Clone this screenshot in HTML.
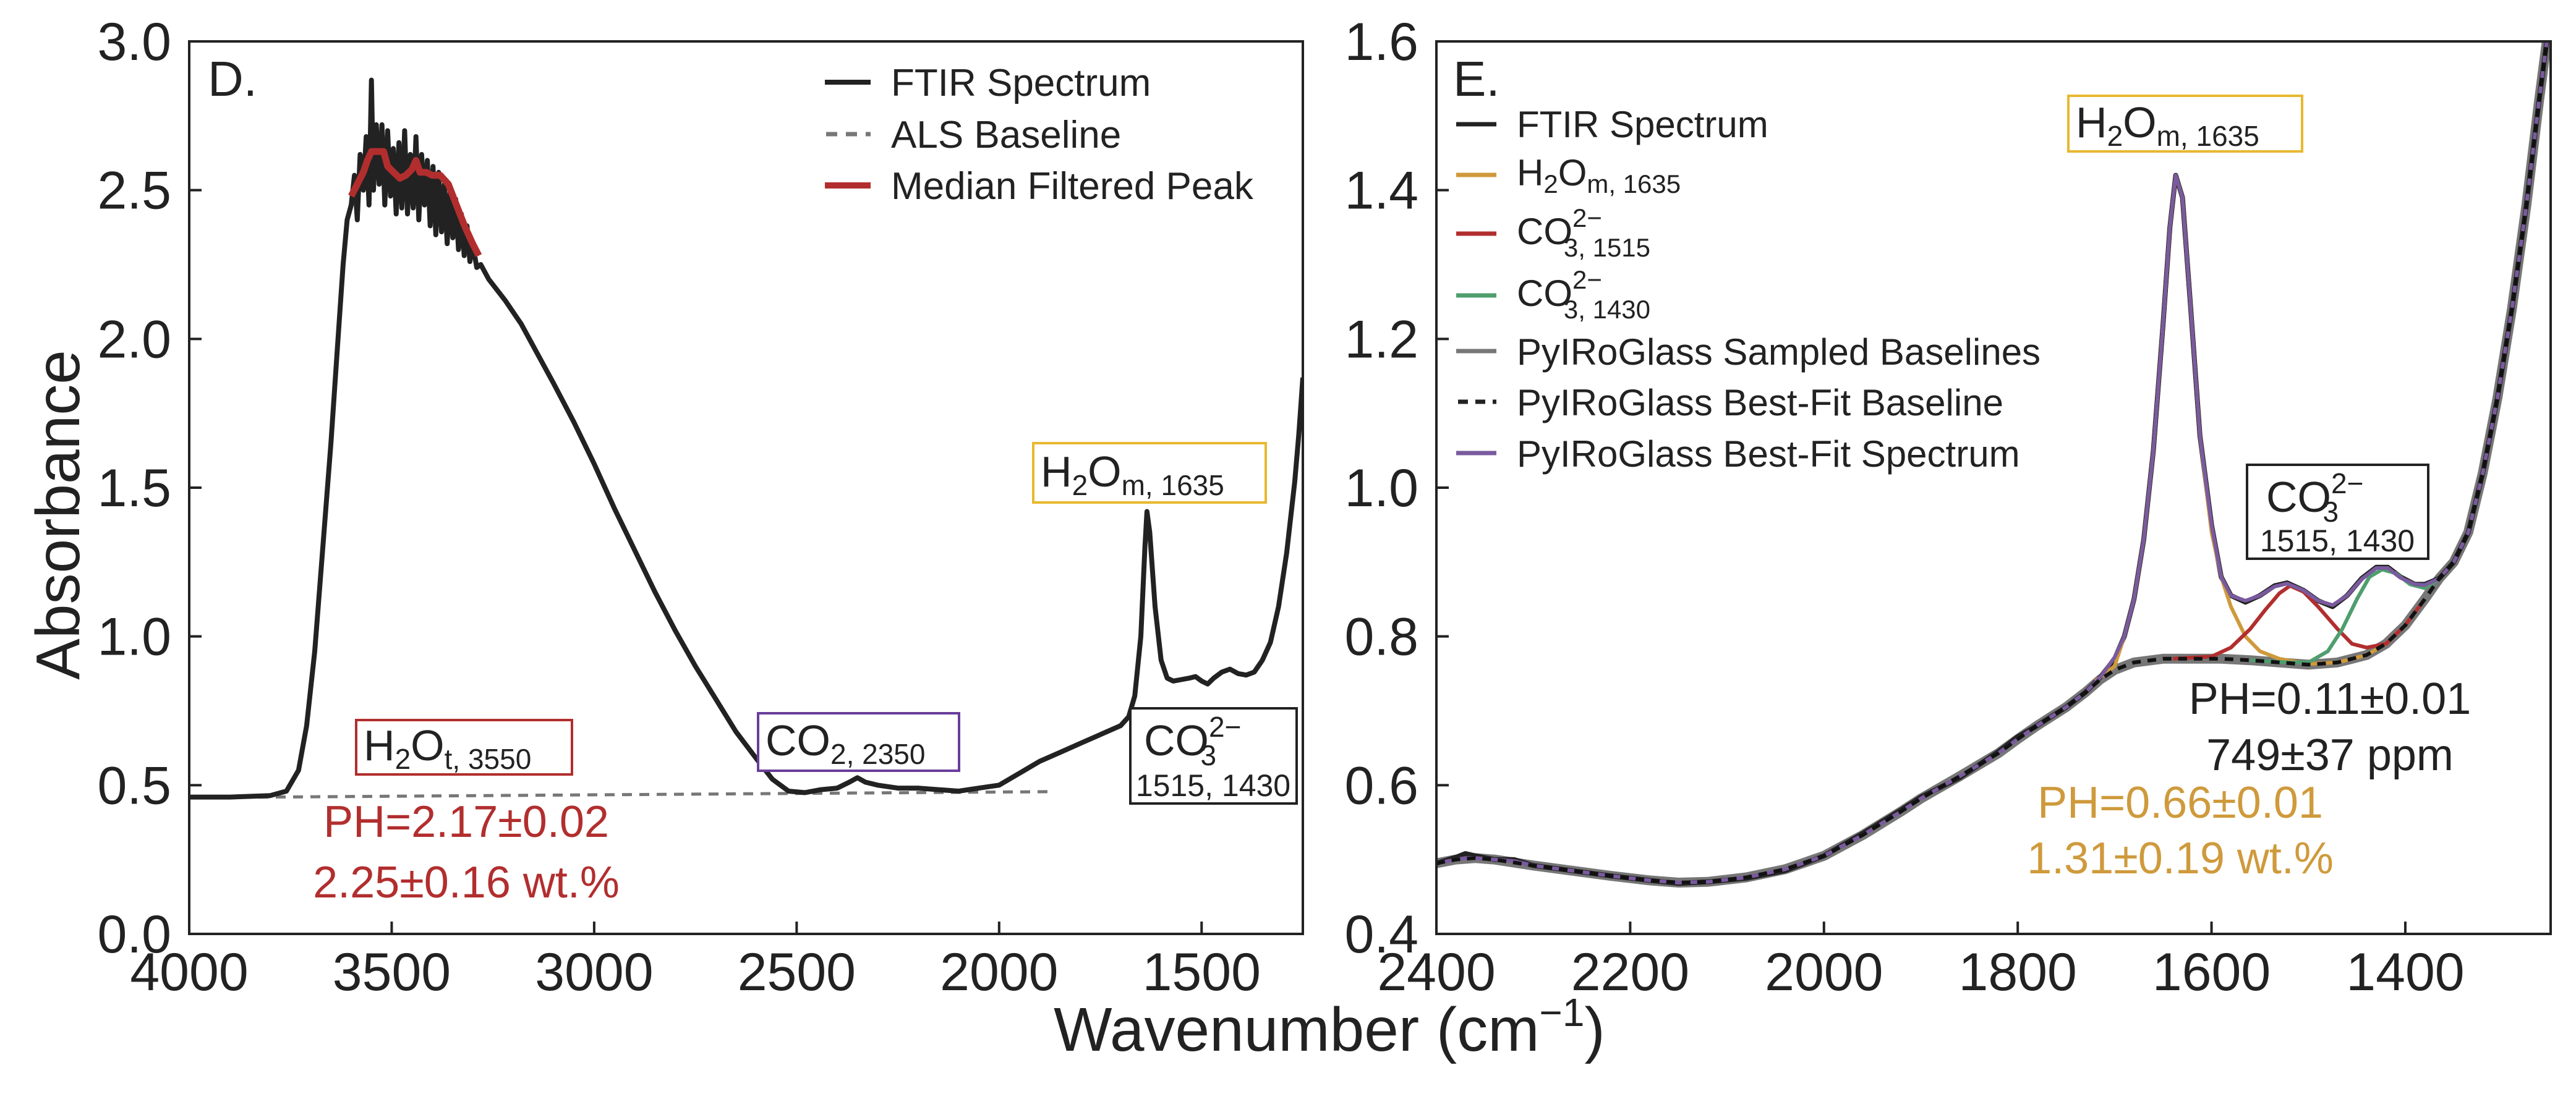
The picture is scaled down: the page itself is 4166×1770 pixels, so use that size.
<!DOCTYPE html>
<html><head><meta charset="utf-8"><style>
html,body{margin:0;padding:0;background:#fff;}
svg{display:block;font-family:"Liberation Sans",sans-serif;}
</style></head><body>
<svg id="fig" width="4166" height="1770" viewBox="0 0 4166 1770" xmlns="http://www.w3.org/2000/svg">
<defs>
<clipPath id="clipL"><rect x="306" y="67" width="1801" height="1444"/></clipPath>
<clipPath id="clipR"><rect x="2323" y="67" width="1802" height="1444"/></clipPath>
</defs>
<g id="plotL" clip-path="url(#clipL)"></g>
<g id="plotR" clip-path="url(#clipR)"></g>
<g id="axes"></g>

<text x="336" y="155" font-size="80" fill="#222">D.</text>
<text x="2350" y="155" font-size="80" fill="#222">E.</text>

<g font-size="62" fill="#222">
 <line x1="1334" y1="133" x2="1408" y2="133" stroke="#222" stroke-width="8"/>
 <text x="1441" y="155">FTIR Spectrum</text>
 <line x1="1336" y1="217" x2="1408" y2="217" stroke="#777" stroke-width="7" stroke-dasharray="18,14"/>
 <text x="1441" y="239">ALS Baseline</text>
 <line x1="1334" y1="300" x2="1408" y2="300" stroke="#b22e2e" stroke-width="10"/>
 <text x="1441" y="322">Median Filtered Peak</text>
</g>

<g font-size="60" fill="#222">
 <line x1="2355" y1="201" x2="2420" y2="201" stroke="#222" stroke-width="7"/>
 <text x="2453" y="222">FTIR Spectrum</text>
 <line x1="2355" y1="283" x2="2420" y2="283" stroke="#cf9a3c" stroke-width="7"/>
 <text x="2453" y="300">H<tspan font-size="42" dy="12">2</tspan><tspan dy="-12">O</tspan><tspan font-size="42" dy="12">m, 1635</tspan></text>
 <line x1="2355" y1="378" x2="2420" y2="378" stroke="#b22e2e" stroke-width="7"/>
 <text x="2453" y="395">CO<tspan font-size="42" dy="-28">2−</tspan><tspan font-size="42" dx="-62" dy="48">3, 1515</tspan></text>
 <line x1="2355" y1="478" x2="2420" y2="478" stroke="#4e9e6e" stroke-width="7"/>
 <text x="2453" y="495">CO<tspan font-size="42" dy="-28">2−</tspan><tspan font-size="42" dx="-62" dy="48">3, 1430</tspan></text>
 <line x1="2355" y1="568" x2="2420" y2="568" stroke="#777" stroke-width="7"/>
 <text x="2453" y="590">PyIRoGlass Sampled Baselines</text>
 <line x1="2358" y1="650" x2="2420" y2="650" stroke="#222" stroke-width="7" stroke-dasharray="16,12"/>
 <text x="2453" y="672">PyIRoGlass Best-Fit Baseline</text>
 <line x1="2355" y1="733" x2="2420" y2="733" stroke="#7a5a9e" stroke-width="7"/>
 <text x="2453" y="755">PyIRoGlass Best-Fit Spectrum</text>
</g>

<g fill="#222">
 <rect x="1671" y="717" width="376" height="96" fill="#fff" stroke="#e8b830" stroke-width="4"/>
 <text x="1683" y="787" font-size="70">H<tspan font-size="46" dy="14">2</tspan><tspan dy="-14">O</tspan><tspan font-size="46" dy="14">m, 1635</tspan></text>
 <rect x="1828" y="1146" width="269" height="154" fill="#fff" stroke="#222" stroke-width="4"/>
 <text x="1850" y="1222" font-size="70">CO<tspan font-size="46" dy="-30">2−</tspan><tspan font-size="46" dx="-66" dy="46">3</tspan></text>
 <text x="1962" y="1288" font-size="50" text-anchor="middle">1515, 1430</text>
 <rect x="576" y="1165" width="349" height="88" fill="#fff" stroke="#b22e2e" stroke-width="4"/>
 <text x="588" y="1230" font-size="70">H<tspan font-size="46" dy="14">2</tspan><tspan dy="-14">O</tspan><tspan font-size="46" dy="14">t, 3550</tspan></text>
 <rect x="1226" y="1154" width="325" height="93" fill="#fff" stroke="#6a3d9a" stroke-width="4"/>
 <text x="1238" y="1222" font-size="70">CO<tspan font-size="46" dy="14">2, 2350</tspan></text>
 <text x="754" y="1354" font-size="72" fill="#b22e2e" text-anchor="middle">PH=2.17±0.02</text>
 <text x="754" y="1452" font-size="72" fill="#b22e2e" text-anchor="middle">2.25±0.16 wt.%</text>
</g>

<g fill="#222">
 <rect x="3345" y="155" width="378" height="90" fill="#fff" stroke="#e8b830" stroke-width="4"/>
 <text x="3357" y="222" font-size="70">H<tspan font-size="46" dy="14">2</tspan><tspan dy="-14">O</tspan><tspan font-size="46" dy="14">m, 1635</tspan></text>
 <rect x="3634" y="752" width="293" height="152" fill="#fff" stroke="#222" stroke-width="4"/>
 <text x="3665" y="828" font-size="70">CO<tspan font-size="46" dy="-30">2−</tspan><tspan font-size="46" dx="-66" dy="46">3</tspan></text>
 <text x="3780" y="892" font-size="50" text-anchor="middle">1515, 1430</text>
 <text x="3768" y="1155" font-size="72" text-anchor="middle">PH=0.11±0.01</text>
 <text x="3768" y="1246" font-size="72" text-anchor="middle">749±37 ppm</text>
 <text x="3526" y="1323" font-size="72" fill="#cf9a3c" text-anchor="middle">PH=0.66±0.01</text>
 <text x="3526" y="1413" font-size="72" fill="#cf9a3c" text-anchor="middle">1.31±0.19 wt.%</text>
</g>

<text transform="translate(128,833) rotate(-90)" font-size="100" fill="#222" text-anchor="middle">Absorbance</text>
<text x="2150" y="1700" font-size="100" fill="#222" text-anchor="middle">Wavenumber (cm<tspan font-size="64" dy="-40">−1</tspan><tspan dy="40">)</tspan></text>

<script>
const dWn = [4000,3900,3800,3760,3730,3710,3690,3670,3650,3635,3620,3610,
3600,3592,3585,3578,3570,3563,3556,3550,3545,3538,3531,3524,3517,3510,3503,3496,3489,3482,3475,3468,3461,3454,3447,3440,3433,3426,3419,3412,3405,3398,3391,3384,3377,3370,3363,3356,3349,3342,3335,3328,3321,3314,3307,3300,3290,3280,
3260,3220,3180,3140,3100,3050,3000,2950,2900,2850,2800,2750,2700,2650,2600,2560,2520,2480,2440,2400,2370,2350,2330,2300,2250,2200,2150,2100,2050,2000,1950,1900,1850,1800,1750,1700,1680,1665,1650,1640,1635,1628,1615,1600,1585,1570,1550,1530,1515,1500,1485,1470,1450,1430,1410,1390,1370,1350,1330,1310,1290,1270,1260,1250];
const dAbs = [0.46,0.46,0.465,0.48,0.55,0.7,0.95,1.3,1.65,1.95,2.25,2.4,
2.45,2.55,2.4,2.62,2.5,2.68,2.45,2.87,2.5,2.72,2.52,2.72,2.45,2.7,2.48,2.64,2.42,2.66,2.44,2.7,2.42,2.62,2.44,2.68,2.4,2.62,2.45,2.6,2.38,2.58,2.35,2.56,2.36,2.52,2.32,2.5,2.34,2.47,2.3,2.42,2.28,2.38,2.26,2.32,2.24,2.25,
2.2,2.13,2.05,1.95,1.85,1.72,1.58,1.43,1.29,1.15,1.02,0.9,0.79,0.68,0.59,0.52,0.48,0.475,0.485,0.49,0.51,0.525,0.51,0.5,0.49,0.49,0.485,0.48,0.49,0.5,0.54,0.58,0.61,0.64,0.67,0.7,0.73,0.8,1.0,1.3,1.42,1.35,1.1,0.92,0.86,0.85,0.855,0.86,0.865,0.85,0.84,0.86,0.88,0.89,0.875,0.87,0.88,0.92,0.98,1.1,1.28,1.52,1.68,1.87];
const alsWn = [4000,1880];
const alsAbs = [0.458,0.478];
const medWn = [3600,3585,3570,3560,3550,3535,3520,3510,3495,3480,3465,3450,3440,3430,3415,3400,3380,3360,3340,3320,3300,3285];
const medAbs = [2.48,2.52,2.56,2.6,2.63,2.63,2.63,2.58,2.56,2.54,2.55,2.57,2.6,2.56,2.56,2.55,2.55,2.52,2.45,2.38,2.32,2.28];
const dYTicks = [0,0.5,1.0,1.5,2.0,2.5,3.0];
const dYLabels = ["0.0","0.5","1.0","1.5","2.0","2.5","3.0"];
const dXTicks = [4000,3500,3000,2500,2000,1500];
const dXLabels = ["4000","3500","3000","2500","2000","1500"];

const eWn = [2400,2380,2370,2360,2340,2320,2300,2260,2220,2180,2150,2120,2080,2040,2000,1960,1920,1900,1860,1820,1800,1780,1750,1730,1715,1700,1690,1680,1670,1660,1650,1643,1637,1630,1622,1612,1600,1590,1580,1565,1550,1535,1522,1505,1490,1475,1460,1445,1430,1418,1405,1390,1380,1365,1350,1335,1320,1305,1290,1275,1262,1250,1240];
const eAbs = [0.495,0.503,0.508,0.505,0.5,0.5,0.492,0.485,0.478,0.472,0.468,0.47,0.475,0.485,0.505,0.535,0.567,0.584,0.61,0.645,0.665,0.68,0.705,0.725,0.745,0.77,0.8,0.85,0.93,1.05,1.22,1.35,1.42,1.39,1.25,1.07,0.95,0.88,0.855,0.846,0.855,0.868,0.872,0.862,0.848,0.84,0.855,0.878,0.893,0.893,0.88,0.87,0.87,0.878,0.9,0.94,1.02,1.12,1.24,1.38,1.52,1.64,1.76];
const fitAbs = [0.495,0.5,0.502,0.502,0.5,0.498,0.492,0.485,0.478,0.472,0.469,0.47,0.476,0.487,0.505,0.533,0.565,0.582,0.612,0.643,0.662,0.68,0.705,0.725,0.745,0.772,0.8,0.85,0.93,1.05,1.22,1.35,1.42,1.39,1.25,1.07,0.95,0.88,0.855,0.848,0.855,0.867,0.871,0.862,0.848,0.842,0.855,0.877,0.892,0.892,0.879,0.87,0.869,0.878,0.9,0.94,1.02,1.12,1.24,1.38,1.52,1.64,1.76];
const baseWn = [2400,2380,2360,2340,2300,2260,2220,2180,2150,2120,2080,2040,2000,1960,1920,1900,1860,1820,1800,1780,1750,1730,1715,1700,1680,1650,1620,1590,1560,1530,1500,1470,1440,1420,1400,1380,1365,1350,1335,1320,1305,1290,1275,1262,1250,1240];
const baseAbs = [0.495,0.5,0.502,0.5,0.492,0.485,0.478,0.472,0.469,0.47,0.476,0.487,0.505,0.533,0.565,0.582,0.612,0.643,0.662,0.68,0.705,0.725,0.742,0.755,0.765,0.77,0.77,0.77,0.768,0.765,0.762,0.765,0.775,0.79,0.815,0.85,0.878,0.9,0.94,1.02,1.12,1.24,1.38,1.52,1.64,1.76];
const h2oWn = [1720,1700,1690,1680,1670,1660,1650,1643,1637,1630,1622,1612,1600,1590,1580,1565,1550,1530,1500,1470,1440,1420,1400];
const h2oAbs = [0.74,0.76,0.8,0.85,0.93,1.05,1.22,1.35,1.42,1.39,1.25,1.07,0.94,0.88,0.84,0.8,0.78,0.77,0.763,0.765,0.775,0.79,0.815];
const c1515Wn = [1640,1600,1580,1560,1545,1530,1519,1505,1490,1470,1455,1440,1420,1400,1380];
const c1515Abs = [0.77,0.773,0.785,0.81,0.835,0.858,0.868,0.86,0.84,0.81,0.79,0.785,0.79,0.815,0.85];
const c1430Wn = [1560,1520,1500,1480,1465,1450,1437,1424,1410,1395,1380,1365];
const c1430Abs = [0.768,0.765,0.765,0.78,0.81,0.85,0.88,0.89,0.885,0.87,0.865,0.878];
const eYTicks = [0.4,0.6,0.8,1.0,1.2,1.4,1.6];
const eYLabels = ["0.4","0.6","0.8","1.0","1.2","1.4","1.6"];
const eXTicks = [2400,2200,2000,1800,1600,1400];
const eXLabels = ["2400","2200","2000","1800","1600","1400"];

const NS = "http://www.w3.org/2000/svg";
const L = {x0:306,x1:2107,y0:67,y1:1511,wMax:4000,wMin:1250,vMin:0,vMax:3};
const R = {x0:2323,x1:4125,y0:67,y1:1511,wMax:2400,wMin:1250,vMin:0.4,vMax:1.6};
function sx(p,w){return p.x0+(p.wMax-w)/(p.wMax-p.wMin)*(p.x1-p.x0);}
function sy(p,v){return p.y1-(v-p.vMin)/(p.vMax-p.vMin)*(p.y1-p.y0);}
function mk(tag,attrs,parent){const e=document.createElementNS(NS,tag);for(const k in attrs)e.setAttribute(k,attrs[k]);parent.appendChild(e);return e;}
function pathD(p,ws,vs){return ws.map((w,i)=>(i?"L":"M")+sx(p,w).toFixed(1)+","+sy(p,vs[i]).toFixed(1)).join("");}

const gL=document.getElementById("plotL"), gR=document.getElementById("plotR"), gA=document.getElementById("axes");
let e;
e=mk("path",{d:pathD(L,alsWn,alsAbs),fill:"none",stroke:"#777","stroke-width":5,"stroke-dasharray":"16,12"},gL);


e=mk("path",{d:pathD(L,dWn,dAbs),fill:"none",stroke:"#222","stroke-width":8,"stroke-linejoin":"round"},gL);


e=mk("path",{d:pathD(L,medWn,medAbs),fill:"none",stroke:"#b22e2e","stroke-width":11,"stroke-linejoin":"round"},gL);



e=mk("path",{d:pathD(R,baseWn,baseAbs),fill:"none",stroke:"#777","stroke-width":16,"stroke-linejoin":"round"},gR);


e=mk("path",{d:pathD(R,eWn,eAbs),fill:"none",stroke:"#222","stroke-width":8,"stroke-linejoin":"round"},gR);


e=mk("path",{d:pathD(R,h2oWn,h2oAbs),fill:"none",stroke:"#cf9a3c","stroke-width":6},gR);


e=mk("path",{d:pathD(R,c1515Wn,c1515Abs),fill:"none",stroke:"#b22e2e","stroke-width":6},gR);


e=mk("path",{d:pathD(R,c1430Wn,c1430Abs),fill:"none",stroke:"#4e9e6e","stroke-width":6},gR);


e=mk("path",{d:pathD(R,eWn,fitAbs),fill:"none",stroke:"#7a5a9e","stroke-width":6,"stroke-linejoin":"round"},gR);


e=mk("path",{d:pathD(R,baseWn,baseAbs),fill:"none",stroke:"#111","stroke-width":6,"stroke-dasharray":"14,11"},gR);



function axesFor(p,yT,yL,xT,xL,tag){
  const f=mk("rect",{x:p.x0,y:p.y0,width:p.x1-p.x0,height:p.y1-p.y0,fill:"none",stroke:"#222","stroke-width":4},gA);
  
  
  yT.forEach((v,i)=>{
    const y=sy(p,v);
    const t=mk("line",{x1:p.x0,y1:y,x2:p.x0+20,y2:y,stroke:"#222","stroke-width":4},gA);
    
    
    const lb=mk("text",{x:p.x0-29,y:y+30,"font-size":86,fill:"#222","text-anchor":"end"},gA);
    lb.textContent=yL[i];
    
    
  });
  xT.forEach((w,i)=>{
    const x=sx(p,w);
    const t=mk("line",{x1:x,y1:p.y1,x2:x,y2:p.y1-20,stroke:"#222","stroke-width":4},gA);
    
    
    const lb=mk("text",{x:x,y:1602,"font-size":86,fill:"#222","text-anchor":"middle"},gA);
    lb.textContent=xL[i];
    
    
  });
}
axesFor(L,dYTicks,dYLabels,dXTicks,dXLabels,"panel-d");
axesFor(R,eYTicks,eYLabels,eXTicks,eXLabels,"panel-e");
</script>
</svg>
</body></html>
